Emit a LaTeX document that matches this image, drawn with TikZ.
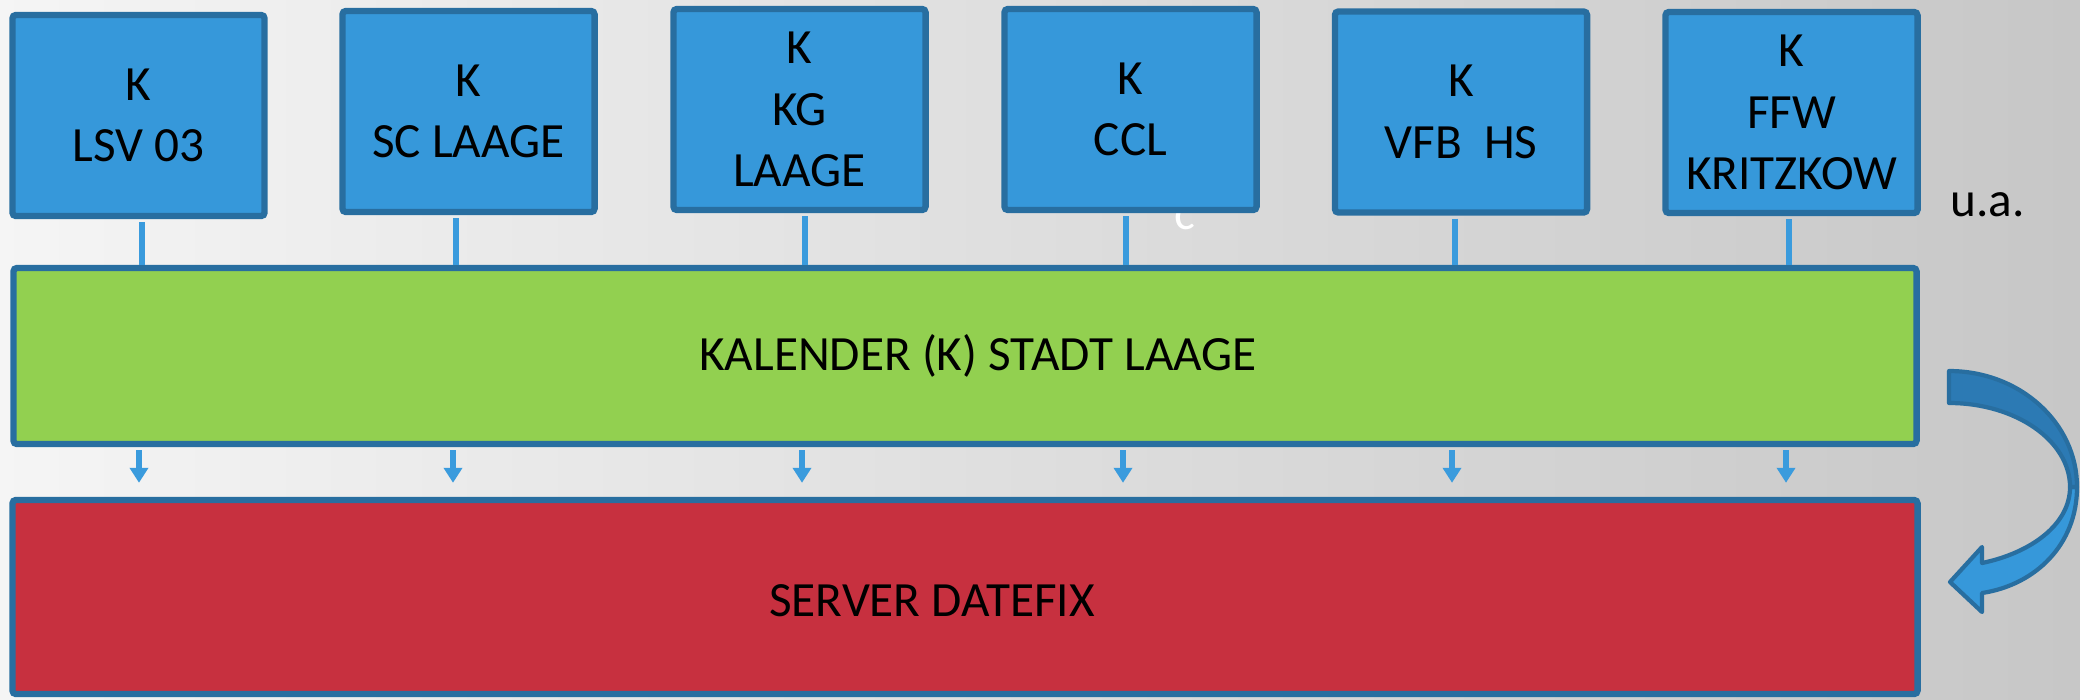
\documentclass[tikz,border=0pt]{standalone}
\usepackage{fontspec}
\setmainfont{Carlito}
\usetikzlibrary{arrows.meta,calc}

\definecolor{clubblue}{HTML}{3698DA}
\definecolor{frameblue}{HTML}{286EA0}
\definecolor{linkblue}{HTML}{3A9BDD}
\definecolor{bendblue}{HTML}{2C7AB4}
\definecolor{kalgreen}{HTML}{92D050}
\definecolor{serverred}{HTML}{C7303F}

\tikzset{
    club/.style={draw=frameblue, fill=clubblue, line width=1.8pt, rounded corners=1pt,
        minimum width=2.52cm, minimum height=2.01cm, align=center},
    panel/.style={draw=frameblue, line width=1.8pt, rounded corners=1pt},
    link/.style={draw=linkblue, line width=1.5pt},
    bendline/.style={draw=frameblue, line width=1.2pt, line join=round},
}

\begin{document}
\begin{tikzpicture}[x=0.01cm, y=-0.01cm, >={Triangle[width=0.18cm,length=0.15cm]},
    font=\fontsize{14pt}{17.5pt}\selectfont]
    % the grey background
    \shade[left color=black!4, right color=black!22] (0,0) rectangle (2080,699);
    \useasboundingbox (0,0) rectangle (2080,699);

    % the white c, half hidden under the CCL box
    \node[text=white, anchor=base, inner sep=0pt] (c) at (1185,229) {c};

    % the six club calendars
    \node[club] (b1) at (138.5,115.5) {K\\LSV 03};
    \node[club] (b2) at (468.5,111.5) {K\\SC LAAGE};
    \node[club] (b3) at (799.5,109.5) {K\\KG\\LAAGE};
    \node[club] (b4) at (1130.5,109.5) {K\\CCL};
    \node[club] (b5) at (1461,112) {K\\VFB~~HS};
    \node[club] (b6) at (1791.5,112.5) {K\\FFW\\KRITZKOW};

    % the label right of the last club
    \node[anchor=base west, inner sep=0pt] (ua) at (1950,216) {u.a.};

    % the calendar of the town
    \node[panel, fill=kalgreen, minimum width=19.02cm, minimum height=1.76cm,
        label={[xshift=0.13cm]center:KALENDER (K) STADT LAAGE}] (kal) at (965,356) {};
    % the server
    \node[panel, fill=serverred, minimum width=19.04cm, minimum height=1.94cm,
        label={[xshift=-0.33cm, yshift=-0.04cm]center:SERVER DATEFIX}] (srv) at (965,597) {};

    % lines from the clubs down to the calendar, arrows down to the server
    \foreach \n/\dx in {1/3.5, 2/-12.5, 3/5.5, 4/-4.5, 5/-6, 6/-2.5} {
        \coordinate (t\n) at ($(b\n.south)+(\dx,3)$);
        \draw[link] (t\n) -- (t\n |- kal.north);
        \coordinate (d\n) at ($(t\n |- kal.south)+(-3,3)$);
        \draw[link, ->] (d\n) -- ($(d\n |- srv.north)+(0,-14)$);
    }

    % the bent arrow, lower half with the head
    \fill[clubblue, bendline] (2077,487) .. controls (2077,545) and (2035,585) .. (1982,593)
        -- (1982,612) -- (1950,582) -- (1982,547) -- (1982,563)
        .. controls (2030,553) and (2070,525) .. (2070,487) -- cycle;
    % the bent arrow, upper half
    \fill[bendblue, bendline] (1949,371) .. controls (2020,371) and (2077,423) .. (2077,487)
        -- (2070,487) .. controls (2070,441) and (2016,403) .. (1949,403) -- cycle;
\end{tikzpicture}
\end{document}
